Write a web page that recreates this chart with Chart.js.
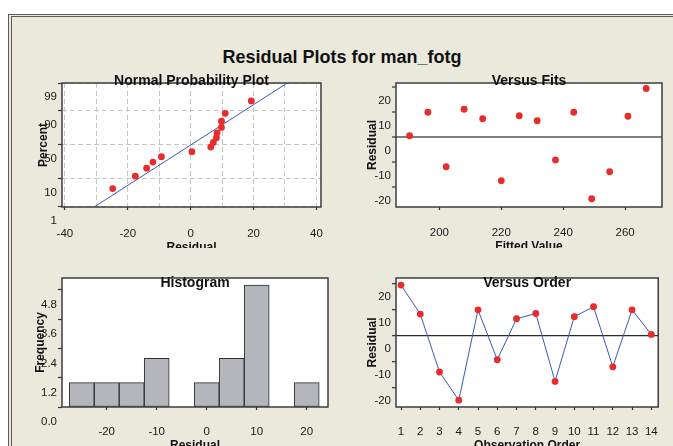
<!DOCTYPE html>
<html><head><meta charset="utf-8">
<script src="https://cdn.jsdelivr.net/npm/chart.js@4.4.1/dist/chart.umd.min.js"></script>
<style>
html,body{margin:0;padding:0;background:#fff;width:673px;height:446px;overflow:hidden;position:relative;}
#outer{position:absolute;left:8px;top:14px;width:720px;height:520px;border:1px solid #5c5c5c;background:#ebe8dc;}
#inner{position:absolute;left:2px;top:1px;width:720px;height:520px;border:1px solid #5c5c5c;}
#mainTitle{position:absolute;left:142px;top:48px;width:400px;text-align:center;font:bold 18px/18px "Liberation Sans",Arial,sans-serif;color:#111;white-space:nowrap;}
.wrap{position:absolute;overflow:hidden;}
canvas{display:block;}
</style></head>
<body>
<div id="outer"><div id="inner"></div></div>
<div id="mainTitle">Residual Plots for man_fotg</div>
<div class="wrap" style="left:0;top:66px;width:340px;height:182px;"><canvas id="c1" width="340" height="200"></canvas></div>
<div class="wrap" style="left:345px;top:66px;width:328px;height:182px;"><canvas id="c2" width="328" height="200"></canvas></div>
<div class="wrap" style="left:0;top:262px;width:340px;height:200px;"><canvas id="c3" width="340" height="200"></canvas></div>
<div class="wrap" style="left:345px;top:262px;width:328px;height:200px;"><canvas id="c4" width="328" height="200"></canvas></div>
<script>
// ---------- data ----------
const observationOrder = [1,2,3,4,5,6,7,8,9,10,11,12,13,14];
const residuals = [19.3, 8.2, -14.0, -24.8, 9.8, -9.3, 6.4, 8.4, -17.6, 7.2, 11.0, -12.0, 9.8, 0.4];
const fittedValues = [266.8, 260.9, 255.0, 249.2, 243.4, 237.5, 231.6, 225.8, 220.0, 214.0, 208.0, 202.2, 196.3, 190.4];
const normResidual = [-24.8, -17.6, -14.0, -12.0, -9.3, 0.4, 6.4, 7.2, 8.2, 8.4, 9.8, 9.8, 11.0, 19.3];
const normPercent = [4.9, 11.8, 18.8, 25.7, 32.6, 39.6, 46.5, 53.5, 60.4, 67.4, 74.3, 81.3, 88.2, 95.1];
const fitLineResidual = [-30.4, 30.7];
const fitLinePercent = [1, 99];
const percentTicks = [1, 10, 50, 90, 99];
const npResidualTicks = [-40, -30, -20, -10, 0, 10, 20, 30, 40];
const histBinCenters = [-25, -20, -15, -10, -5, 0, 5, 10, 15, 20];
const histCounts = [1, 1, 1, 2, 0, 1, 2, 5, 0, 1];
const freqTicks = [0, 1.2, 2.4, 3.6, 4.8];
const histResidualTicks = [-20, -10, 0, 10, 20];
const residualTicks = [-20, -10, 0, 10, 20];
const fitTicks = [200, 220, 240, 260];

// ---------- helpers ----------
function probit(p){
  const a=[-3.969683028665376e+01,2.209460984245205e+02,-2.759285104469687e+02,1.383577518672690e+02,-3.066479806614716e+01,2.506628277459239e+00];
  const b=[-5.447609879822406e+01,1.615858368580409e+02,-1.556989798598866e+02,6.680131188771972e+01,-1.328068155288572e+01];
  const c=[-7.784894002430293e-03,-3.223964580411365e-01,-2.400758277161838e+00,-2.549732539343734e+00,4.374664141464968e+00,2.938163982698783e+00];
  const d=[7.784695709041462e-03,3.224671290700398e-01,2.445134137142996e+00,3.754408661907416e+00];
  const pl=0.02425,ph=1-pl;let q,r;
  if(p<pl){q=Math.sqrt(-2*Math.log(p));return (((((c[0]*q+c[1])*q+c[2])*q+c[3])*q+c[4])*q+c[5])/((((d[0]*q+d[1])*q+d[2])*q+d[3])*q+1);}
  if(p>ph){q=Math.sqrt(-2*Math.log(1-p));return -(((((c[0]*q+c[1])*q+c[2])*q+c[3])*q+c[4])*q+c[5])/((((d[0]*q+d[1])*q+d[2])*q+d[3])*q+1);}
  q=p-0.5;r=q*q;return (((((a[0]*r+a[1])*r+a[2])*r+a[3])*r+a[4])*r+a[5])*q/(((((b[0]*r+b[1])*r+b[2])*r+b[3])*r+b[4])*r+1);
}
Chart.defaults.font.family = '"Liberation Sans", Arial, sans-serif';
Chart.defaults.color = '#222';

const RED = '#e82b2b', BLUE = '#3a58bd', TXT = '#1a1a1a', TICK = '#333';
const tickFont = {size: 11.5};
const titleFont = {size: 12, weight: 'bold'};
const NONE = 'rgba(0,0,0,0)';

const framePlugin = {
  id: 'frame',
  beforeDraw(chart){
    const {ctx, chartArea: a} = chart;
    ctx.save(); ctx.fillStyle = '#fff';
    ctx.fillRect(a.left, a.top, a.right - a.left, a.bottom - a.top); ctx.restore();
  },
  beforeDatasetsDraw(chart){
    const {ctx, chartArea: a} = chart;
    ctx.save(); ctx.strokeStyle = '#3c3c3c'; ctx.lineWidth = 1.5;
    ctx.strokeRect(a.left, a.top, a.right - a.left, a.bottom - a.top); ctx.restore();
  },
  afterDraw(chart, args, opts){
    const {ctx, chartArea: a} = chart;
    ctx.save(); ctx.font = 'bold 14px "Liberation Sans", Arial, sans-serif';
    ctx.fillStyle = '#111'; ctx.textAlign = 'center'; ctx.textBaseline = 'alphabetic';
    ctx.fillText(opts.text, (a.left + a.right) / 2, a.top + opts.dy); ctx.restore();
  }
};

function yAxis(o){
  return {
    type: 'linear', position: 'left', min: o.min, max: o.max, offset: false,
    afterFit: s => { s.width = o.width; },
    afterBuildTicks: s => { s.ticks = o.ticks.map(v => ({value: v})); },
    ticks: {callback: o.label, font: tickFont, color: TXT, padding: 1, labelOffset: o.labelOffset, autoSkip: false, maxRotation: 0},
    grid: {offset: false, drawOnChartArea: !!o.gridColor, color: o.gridColor || NONE, lineWidth: o.gridWidth || 1,
           tickLength: 4, tickColor: TICK, tickWidth: 1.2},
    border: {display: false, dash: o.dash || []},
    title: {display: true, text: o.title, font: titleFont, color: '#111', padding: {top: o.titlePad, bottom: 0}}
  };
}
function xAxis(o){
  return {
    type: 'linear', position: 'bottom', min: o.min, max: o.max, offset: false,
    afterFit: s => { s.height = o.height; },
    afterBuildTicks: s => { s.ticks = o.ticks.map(v => ({value: v})); },
    ticks: {callback: o.label || (v => String(v)), font: tickFont, color: TXT, padding: o.pad, autoSkip: false, maxRotation: 0, minRotation: 0},
    grid: {offset: false, drawOnChartArea: !!o.gridColor, color: o.gridColor || NONE, lineWidth: 1,
           tickLength: 3, tickColor: o.tickColor || TICK, tickWidth: 1.2},
    border: {display: false, dash: o.dash || []},
    title: {display: true, text: o.title, font: titleFont, color: '#111', padding: {top: 0, bottom: o.titlePad}}
  };
}
function baseOptions(pad, title, dy, scales){
  return {
    responsive: false, animation: false, devicePixelRatio: 1,
    layout: {padding: pad},
    datasets: {bar: {barPercentage: 1, categoryPercentage: 1}},
    plugins: {legend: {display: false}, tooltip: {enabled: false}, frame: {text: title, dy: dy}},
    scales: scales
  };
}

// ---------- 1. Normal probability plot ----------
new Chart(document.getElementById('c1'), {
  type: 'scatter',
  data: {datasets: [
    {data: normResidual.map((r, i) => ({x: r, y: probit(normPercent[i] / 100)})),
     pointRadius: 3.4, pointBackgroundColor: RED, pointBorderWidth: 0, showLine: false},
    {data: fitLineResidual.map((r, i) => ({x: r, y: probit(fitLinePercent[i] / 100)})),
     showLine: true, borderColor: BLUE, borderWidth: 1, pointRadius: 0}
  ]},
  options: baseOptions({left: 0, top: 17, right: 12, bottom: 0}, 'Normal Probability Plot', 2, {
    x: xAxis({min: -40.93, max: 41.46, height: 59, ticks: npResidualTicks, pad: 17, titlePad: 11.1,
              title: 'Residual', gridColor: '#c6c6c6', dash: [5, 3],
              label: v => (v % 20 === 0 ? String(v) : ''),
              tickColor: c => (c.tick && c.tick.value % 20 === 0 ? TICK : NONE)}),
    y: yAxis({min: -2.35, max: 2.33, width: 62, ticks: percentTicks.map(p => probit(p / 100)),
              label: (v, i) => String(percentTicks[i]), labelOffset: 14, title: 'Percent', titlePad: 36.8,
              gridColor: '#c6c6c6', dash: [5, 3]})
  }),
  plugins: [framePlugin]
});

// ---------- 2. Versus fits ----------
new Chart(document.getElementById('c2'), {
  type: 'scatter',
  data: {datasets: [
    {data: fittedValues.map((f, i) => ({x: f, y: residuals[i]})),
     pointRadius: 3.4, pointBackgroundColor: RED, pointBorderWidth: 0}
  ]},
  options: baseOptions({left: 0, top: 17, right: 11, bottom: 0}, 'Versus Fits', 2, {
    x: xAxis({min: 186.0, max: 271.9, height: 59, ticks: fitTicks, pad: 16, titlePad: 12.1, title: 'Fitted Value'}),
    y: yAxis({min: -28.1, max: 21.5, width: 51, ticks: residualTicks, label: v => String(v), labelOffset: 14.4,
              title: 'Residual', titlePad: 20.8,
              gridColor: c => (c.tick && c.tick.value === 0 ? '#808080' : NONE), gridWidth: 2})
  }),
  plugins: [framePlugin]
});

// ---------- 3. Histogram ----------
new Chart(document.getElementById('c3'), {
  type: 'bar',
  data: {datasets: [
    {data: histBinCenters.map((b, i) => ({x: b, y: histCounts[i]})),
     backgroundColor: '#b5b6bb', borderColor: '#2e2e2e', borderWidth: 1, borderSkipped: false,
     barPercentage: 1, categoryPercentage: 1}
  ]},
  options: baseOptions({left: 0, top: 16, right: 12, bottom: 0}, 'Histogram', 8.7, {
    x: xAxis({min: -28.94, max: 24.26, height: 55, ticks: histResidualTicks, pad: 15, titlePad: 8.7, title: 'Residual'}),
    y: yAxis({min: 0, max: 5.29, width: 62, ticks: freqTicks, label: v => v.toFixed(1), labelOffset: 15,
              title: 'Frequency', titlePad: 33.3})
  }),
  plugins: [framePlugin]
});

// ---------- 4. Versus order ----------
new Chart(document.getElementById('c4'), {
  type: 'scatter',
  data: {datasets: [
    {data: observationOrder.map((o, i) => ({x: o, y: residuals[i]})),
     pointRadius: 3.4, pointBackgroundColor: RED, pointBorderWidth: 0, showLine: false},
    {data: observationOrder.map((o, i) => ({x: o, y: residuals[i]})),
     showLine: true, borderColor: BLUE, borderWidth: 1, pointRadius: 0}
  ]},
  options: baseOptions({left: 0, top: 16, right: 11, bottom: 0}, 'Versus Order', 8.7, {
    x: xAxis({min: 0.74, max: 14.36, height: 55, ticks: observationOrder, pad: 15, titlePad: 8.7, title: 'Observation Order'}),
    y: yAxis({min: -27.4, max: 22.0, width: 51, ticks: residualTicks, label: v => String(v), labelOffset: 13.3,
              title: 'Residual', titlePad: 20.8,
              gridColor: c => (c.tick && c.tick.value === 0 ? '#2a2a2a' : NONE), gridWidth: 1.3})
  }),
  plugins: [framePlugin]
});
</script>
</body></html>
